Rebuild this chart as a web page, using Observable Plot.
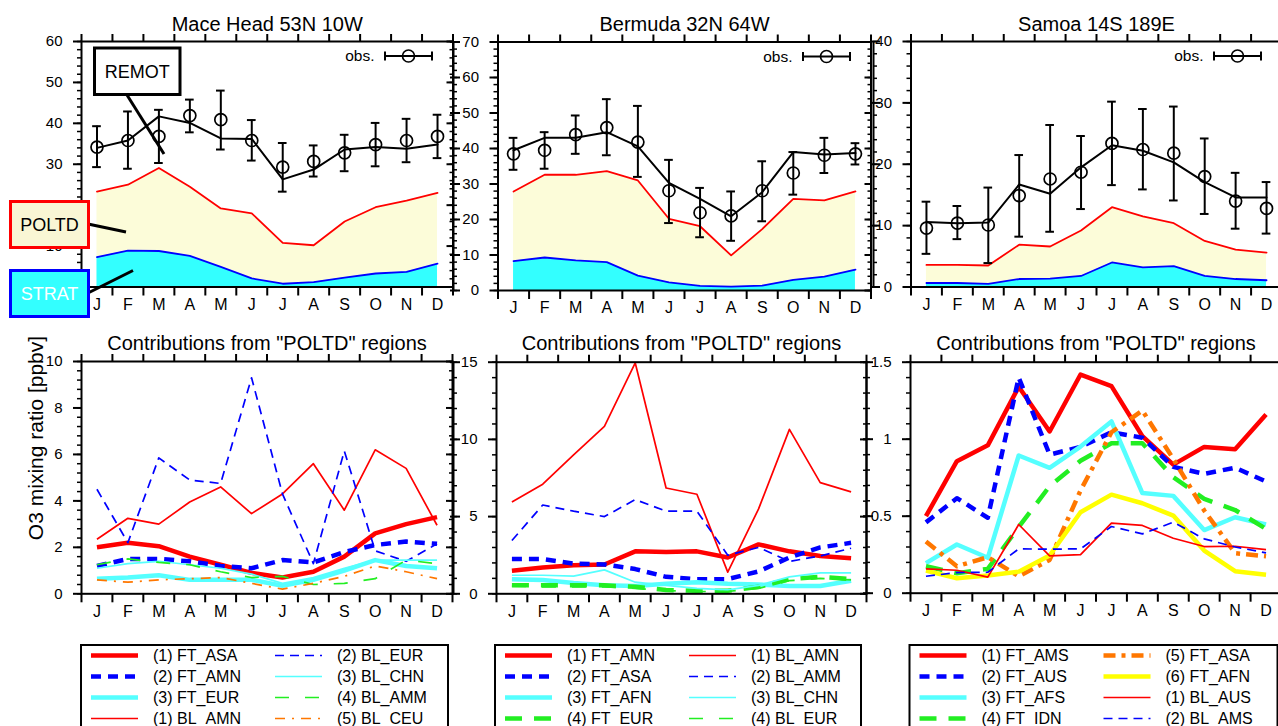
<!DOCTYPE html>
<html><head><meta charset="utf-8">
<script src="https://cdn.jsdelivr.net/npm/d3@7"></script>
<script src="https://cdn.jsdelivr.net/npm/@observablehq/plot@0.6"></script>
<style>
html,body{margin:0;padding:0;background:#fff;overflow:hidden;}
#root{position:relative;width:1278px;height:726px;overflow:hidden;background:#fff;}
#root svg{position:absolute;left:0;top:0;}
</style></head><body><div id="root"></div>
<script>
const months = ["J","F","M","A","M","J","J","A","S","O","N","D"];

// ---- top row: Mace Head ----
const mh_strat = [7.3, 8.9, 8.8, 7.6, 4.9, 2.1, 0.8, 1.2, 2.3, 3.3, 3.7, 5.7];
const mh_poltd = [23.3, 25.0, 29.1, 24.5, 19.2, 18.0, 10.8, 10.2, 16.0, 19.5, 21.1, 23.0];
const mh_model = [34.0, 35.8, 41.7, 40.1, 36.3, 36.2, 26.3, 28.7, 33.6, 34.2, 33.8, 34.8];
const mh_obs   = [34.2, 35.8, 36.8, 41.9, 40.9, 35.8, 29.3, 30.7, 32.8, 34.8, 35.8, 36.8];
const mh_obsHi = [39.3, 42.9, 43.3, 45.8, 48.0, 40.8, 35.2, 34.6, 37.2, 40.1, 41.1, 42.1];
const mh_obsLo = [29.3, 28.9, 30.3, 37.8, 33.6, 30.9, 23.3, 27.0, 28.3, 29.5, 30.5, 31.5];
// ---- top row: Bermuda ----
const bm_strat = [8.3, 9.3, 8.5, 8.0, 4.2, 2.3, 1.3, 1.1, 1.4, 3.0, 3.9, 5.9];
const bm_poltd = [27.9, 32.6, 32.6, 33.6, 31.0, 20.2, 18.1, 9.9, 17.3, 25.8, 25.4, 27.9];
const bm_model = [39.5, 43.0, 43.0, 44.6, 40.6, 30.3, 25.8, 20.9, 27.7, 39.0, 38.3, 38.7];
const bm_obs   = [38.5, 39.5, 43.9, 45.9, 41.8, 28.1, 21.9, 21.0, 28.1, 33.1, 38.1, 38.5];
const bm_obsHi = [43.0, 44.6, 49.3, 53.9, 52.0, 36.8, 28.9, 27.9, 36.4, 39.0, 43.0, 41.5];
const bm_obsLo = [34.0, 34.3, 38.5, 38.1, 32.0, 19.0, 15.0, 14.0, 19.5, 27.0, 33.1, 35.5];
// ---- top row: Samoa ----
const sm_strat = [0.65, 0.65, 0.5, 1.3, 1.35, 1.8, 4.0, 3.2, 3.4, 1.8, 1.3, 1.1];
const sm_poltd = [3.6, 3.6, 3.5, 6.9, 6.6, 9.2, 13.0, 11.5, 10.4, 7.5, 6.1, 5.6];
const sm_model = [10.6, 10.4, 10.5, 16.7, 15.2, 19.5, 23.1, 22.2, 20.3, 17.1, 14.6, 14.6];
const sm_obs   = [9.6, 10.4, 10.1, 14.9, 17.6, 18.7, 23.4, 22.4, 21.8, 18.0, 14.0, 12.8];
const sm_obsHi = [13.9, 13.2, 16.2, 21.5, 26.4, 24.6, 30.2, 29.0, 29.4, 24.2, 18.6, 17.1];
const sm_obsLo = [5.4, 7.8, 3.9, 8.2, 9.0, 12.7, 16.6, 15.9, 14.1, 11.9, 9.5, 8.7];

// ---- bottom row: Mace Head contributions ----
const mhc_FT_ASA = [2.0, 2.2, 2.05, 1.6, 1.25, 0.9, 0.7, 0.95, 1.6, 2.6, 3.0, 3.3];
const mhc_FT_AMN = [1.2, 1.5, 1.5, 1.4, 1.2, 1.1, 1.45, 1.35, 1.8, 2.1, 2.25, 2.15];
const mhc_FT_EUR = [0.65, 0.7, 0.8, 0.6, 0.6, 0.6, 0.35, 0.6, 1.0, 1.45, 1.2, 1.1];
const mhc_BL_AMN = [2.35, 3.25, 3.0, 3.95, 4.6, 3.45, 4.3, 5.6, 3.6, 6.2, 5.4, 2.95];
const mhc_BL_EUR = [4.5, 2.2, 5.85, 4.9, 4.75, 9.3, 4.3, 1.3, 6.15, 1.85, 1.4, 2.15];
const mhc_BL_CHN = [1.1, 1.3, 1.4, 1.25, 1.1, 0.85, 0.45, 0.7, 1.1, 1.45, 1.45, 1.45];
const mhc_BL_AMM = [1.25, 1.5, 1.35, 1.25, 0.95, 0.7, 0.75, 0.4, 0.45, 0.65, 1.45, 1.3];
const mhc_BL_CEU = [0.6, 0.5, 0.6, 0.65, 0.7, 0.45, 0.2, 0.45, 0.75, 1.2, 0.95, 0.65];
// ---- bottom row: Bermuda contributions ----
const bmc_FT_AMN = [1.5, 1.7, 1.85, 1.9, 2.75, 2.7, 2.75, 2.35, 3.2, 2.75, 2.45, 2.3];
const bmc_FT_ASA = [2.25, 2.25, 1.95, 1.9, 1.6, 1.1, 0.95, 0.95, 1.45, 2.35, 3.0, 3.3];
const bmc_FT_AFN = [0.95, 0.9, 0.7, 0.55, 0.5, 0.65, 0.75, 0.65, 0.6, 0.5, 0.5, 0.85];
const bmc_FT_EUR = [0.55, 0.55, 0.55, 0.55, 0.45, 0.25, 0.2, 0.2, 0.45, 0.95, 1.1, 0.95];
const bmc_BL_AMN = [5.95, 7.1, 9.0, 10.85, 14.95, 6.85, 6.45, 1.4, 5.5, 10.65, 7.2, 6.6];
const bmc_BL_AMM = [3.45, 5.75, 5.35, 5.0, 6.1, 5.35, 5.35, 2.5, 3.0, 2.1, 2.45, 2.95];
const bmc_BL_CHN = [1.2, 1.2, 1.15, 1.55, 0.75, 0.55, 0.35, 0.25, 0.55, 1.1, 1.35, 1.35];
const bmc_BL_EUR = [0.5, 0.45, 0.45, 0.45, 0.35, 0.2, 0.15, 0.15, 0.35, 0.85, 1.0, 0.9];
// ---- bottom row: Samoa contributions ----
const smc_FT_AMS = [0.5, 0.857, 0.96, 1.34, 1.05, 1.42, 1.345, 1.02, 0.835, 0.95, 0.935, 1.16];
const smc_FT_AUS = [0.46, 0.617, 0.49, 1.4, 0.9, 0.95, 1.045, 1.01, 0.82, 0.775, 0.815, 0.725];
const smc_FT_AFS = [0.195, 0.316, 0.23, 0.894, 0.814, 0.952, 1.115, 0.65, 0.632, 0.41, 0.493, 0.446];
const smc_FT_IDN = [0.175, 0.13, 0.158, 0.43, 0.695, 0.86, 0.974, 0.974, 0.753, 0.613, 0.54, 0.418];
const smc_FT_ASA = [0.335, 0.175, 0.234, 0.11, 0.216, 0.667, 1.045, 1.186, 0.872, 0.537, 0.26, 0.24];
const smc_FT_AFN = [0.147, 0.097, 0.115, 0.14, 0.245, 0.526, 0.64, 0.584, 0.504, 0.277, 0.143, 0.12];
const smc_BL_AUS = [0.158, 0.149, 0.104, 0.446, 0.242, 0.25, 0.455, 0.44, 0.357, 0.303, 0.305, 0.283];
const smc_BL_AMS = [0.11, 0.134, 0.136, 0.288, 0.286, 0.288, 0.433, 0.385, 0.461, 0.353, 0.3, 0.262];

// series lists: [legend label, values, style key]
const mhSeries = [
  ["(1) FT_ASA", mhc_FT_ASA, "thickRed"], ["(2) FT_AMN", mhc_FT_AMN, "thickBlueDash"],
  ["(3) FT_EUR", mhc_FT_EUR, "thickCyan"], ["(1) BL_AMN", mhc_BL_AMN, "thinRed"],
  ["(2) BL_EUR", mhc_BL_EUR, "thinBlueDash"], ["(3) BL_CHN", mhc_BL_CHN, "thinCyan"],
  ["(4) BL_AMM", mhc_BL_AMM, "thinGreenDash"], ["(5) BL_CEU", mhc_BL_CEU, "thinOrangeDashDot"]];
const bmSeries = [
  ["(1) FT_AMN", bmc_FT_AMN, "thickRed"], ["(2) FT_ASA", bmc_FT_ASA, "thickBlueDash"],
  ["(3) FT_AFN", bmc_FT_AFN, "thickCyan"], ["(4) FT_EUR", bmc_FT_EUR, "thickGreenDash"],
  ["(1) BL_AMN", bmc_BL_AMN, "thinRed"], ["(2) BL_AMM", bmc_BL_AMM, "thinBlueDash"],
  ["(3) BL_CHN", bmc_BL_CHN, "thinCyan"], ["(4) BL_EUR", bmc_BL_EUR, "thinGreenDash"]];
const smSeries = [
  ["(1) FT_AMS", smc_FT_AMS, "thickRed"], ["(2) FT_AUS", smc_FT_AUS, "thickBlueDash"],
  ["(3) FT_AFS", smc_FT_AFS, "thickCyan"], ["(4) FT_IDN", smc_FT_IDN, "thickGreenDash"],
  ["(5) FT_ASA", smc_FT_ASA, "thickOrangeDashDot"], ["(6) FT_AFN", smc_FT_AFN, "thickYellow"],
  ["(1) BL_AUS", smc_BL_AUS, "thinRed"], ["(2) BL_AMS", smc_BL_AMS, "thinBlueDash"]];

const topTitles = ["Mace Head 53N 10W", "Bermuda 32N 64W", "Samoa 14S 189E"];
const bottomTitle = 'Contributions from "POLTD" regions';
const yTitle = "O3 mixing ratio [ppbv]";
const annLabels = ["REMOT", "POLTD", "STRAT"];
const obsLabel = "obs.";

// ---- styles ----
const FONT = '"Liberation Sans", Arial, Helvetica, sans-serif';
const CYAN_FILL = "#33ffff", CREAM_FILL = "#fcfcd9";
const LS = {
  thickRed: {stroke: "#ff0000", strokeWidth: 4.5},
  thickBlueDash: {stroke: "#0000ff", strokeWidth: 4.5, strokeDasharray: "10,7"},
  thickCyan: {stroke: "#55ffff", strokeWidth: 4.5},
  thickGreenDash: {stroke: "#22ee22", strokeWidth: 4.5, strokeDasharray: "17,12"},
  thickOrangeDashDot: {stroke: "#ff7700", strokeWidth: 4.5, strokeDasharray: "12,6,4,6"},
  thickYellow: {stroke: "#ffff00", strokeWidth: 4.5},
  thinRed: {stroke: "#ff0000", strokeWidth: 1.7},
  thinBlueDash: {stroke: "#0000ff", strokeWidth: 1.7, strokeDasharray: "9,6"},
  thinCyan: {stroke: "#55ffff", strokeWidth: 1.7},
  thinGreenDash: {stroke: "#22ee22", strokeWidth: 1.7, strokeDasharray: "14,16"},
  thinOrangeDashDot: {stroke: "#ff7700", strokeWidth: 1.7, strokeDasharray: "10,7,2,7"}
};

const W = 1290, H = 726;
const blank = () => "";
const root = document.getElementById("root");

function makePanel(cfg) {
  const {f, yDomain, yMajor, yLabels, yMinor, fmt, detached, rightTicks, title, titleDy, monthDy, dataMarks} = cfg;
  const marks = [
    ...dataMarks,
    Plot.frame({stroke: "black", strokeWidth: 2}),
    Plot.axisX(d3.range(0, 13), {anchor: "bottom", tickSize: 9, tickFormat: blank, strokeWidth: 2, label: null}),
    Plot.axisX(d3.range(0, 13), {anchor: "top", tickSize: 8, tickFormat: blank, strokeWidth: 2, label: null}),
    Plot.text(months, {x: (d, i) => i + 0.5, text: d => d, frameAnchor: "bottom", dy: monthDy, fontSize: 16}),
    Plot.axisY(yMajor, {anchor: "left", tickSize: 8, tickFormat: blank, strokeWidth: 2, label: null}),
    Plot.axisY(yLabels, {anchor: "left", tickSize: 0, tickPadding: 19, tickFormat: fmt, fontSize: 15, label: null}),
    Plot.axisY(yMinor, {anchor: "left", tickSize: 4, tickFormat: blank, strokeWidth: 1.5, label: null}),
    Plot.text([title], {text: d => d, frameAnchor: "top", lineAnchor: "bottom", dy: titleDy, fontSize: 20})
  ];
  if (rightTicks) marks.push(
    Plot.axisY(yMajor, {anchor: "right", tickSize: -7, tickFormat: blank, strokeWidth: 2, label: null}),
    Plot.axisY(yMinor, {anchor: "right", tickSize: -4, tickFormat: blank, strokeWidth: 1.5, label: null})
  );
  if (detached) marks.push(
    Plot.ruleX([0], {dx: -detached, strokeWidth: 2}),
    Plot.axisY(yMajor, {anchor: "left", dx: -detached, tickSize: -7, tickFormat: blank, strokeWidth: 2, label: null}),
    Plot.axisY(yMajor, {anchor: "left", dx: -detached, tickSize: 3, tickFormat: blank, strokeWidth: 2, label: null}),
    Plot.axisY(yMinor, {anchor: "left", dx: -detached, tickSize: -4, tickFormat: blank, strokeWidth: 1.5, label: null})
  );
  const svg = Plot.plot({
    width: W, height: H,
    marginLeft: f.l, marginRight: W - f.r, marginTop: f.t, marginBottom: H - f.b,
    x: {domain: [0, 12]}, y: {domain: yDomain},
    style: `background:transparent;font-family:${FONT};font-size:15px;color:black;overflow:visible;max-width:none;position:absolute;left:0;top:0;`,
    marks
  });
  root.appendChild(svg);
}

function topMarks(strat, poltd, model, obs, hi, lo) {
  const rows = months.map((m, i) => ({x: i + 0.5, strat: strat[i], poltd: poltd[i], model: model[i], obs: obs[i], hi: hi[i], lo: lo[i]}));
  const cap = 0.14;
  return [
    Plot.areaY(rows, {x: "x", y1: 0, y2: "strat", fill: CYAN_FILL}),
    Plot.areaY(rows, {x: "x", y1: "strat", y2: "poltd", fill: CREAM_FILL}),
    Plot.lineY(rows, {x: "x", y: "strat", stroke: "#0000ff", strokeWidth: 1.8}),
    Plot.lineY(rows, {x: "x", y: "poltd", stroke: "#ff0000", strokeWidth: 1.8}),
    Plot.lineY(rows, {x: "x", y: "model", stroke: "black", strokeWidth: 2}),
    Plot.ruleX(rows, {x: "x", y1: "lo", y2: "hi", stroke: "black", strokeWidth: 2}),
    Plot.ruleY(rows, {y: "hi", x1: r => r.x - cap, x2: r => r.x + cap, stroke: "black", strokeWidth: 2}),
    Plot.ruleY(rows, {y: "lo", x1: r => r.x - cap, x2: r => r.x + cap, stroke: "black", strokeWidth: 2}),
    Plot.dot(rows, {x: "x", y: "obs", r: 6, stroke: "black", strokeWidth: 1.7, fill: "none"})
  ];
}

function bottomMarks(series) {
  return series.map(([name, vals, key]) =>
    Plot.lineY(vals.map((v, i) => ({x: i + 0.5, v})), {x: "x", y: "v", strokeLinecap: "butt", strokeLinejoin: "round", ...LS[key]}));
}

const fmtNum = d => String(d);
const range = (a, b, s) => d3.range(Math.round(a / s), Math.round(b / s) + 1).map(k => +(k * s).toFixed(3));

// top row panels
const topFrames = [
  {l: 81, r: 452.5, t: 41, b: 286.5},
  {l: 497.5, r: 870.5, t: 41.5, b: 290},
  {l: 910.5, r: 1281.5, t: 41, b: 286.5}
];
// in the first panel the labels 0 sits under the STRAT box, so it is not drawn
makePanel({f: topFrames[0], yDomain: [0, 60], yMajor: range(0, 60, 10), yLabels: range(10, 60, 10), yMinor: range(0, 60, 2), fmt: fmtNum,
  detached: 0, rightTicks: true, title: topTitles[0], titleDy: -11, monthDy: 22.5,
  dataMarks: topMarks(mh_strat, mh_poltd, mh_model, mh_obs, mh_obsHi, mh_obsLo)});
makePanel({f: topFrames[1], yDomain: [0, 70], yMajor: range(0, 70, 10), yLabels: range(0, 70, 10), yMinor: range(0, 70, 2), fmt: fmtNum,
  detached: 44.5, rightTicks: true, title: topTitles[1], titleDy: -11.5, monthDy: 22.5,
  dataMarks: topMarks(bm_strat, bm_poltd, bm_model, bm_obs, bm_obsHi, bm_obsLo)});
makePanel({f: topFrames[2], yDomain: [0, 40], yMajor: range(0, 40, 10), yLabels: range(0, 40, 10), yMinor: range(0, 40, 2), fmt: fmtNum,
  detached: 37.5, rightTicks: false, title: topTitles[2], titleDy: -11, monthDy: 22.5,
  dataMarks: topMarks(sm_strat, sm_poltd, sm_model, sm_obs, sm_obsHi, sm_obsLo)});

// bottom row panels
const botFrames = [
  {l: 81, r: 452, t: 361, b: 593.3},
  {l: 496, r: 866, t: 361.7, b: 593.3},
  {l: 910, r: 1281, t: 361.7, b: 592.7}
];
makePanel({f: botFrames[0], yDomain: [0, 10], yMajor: range(0, 10, 2), yLabels: range(0, 10, 2), yMinor: range(0, 10, 0.4), fmt: fmtNum,
  detached: 0, rightTicks: true, title: bottomTitle, titleDy: -12, monthDy: 23, dataMarks: bottomMarks(mhSeries)});
makePanel({f: botFrames[1], yDomain: [0, 15], yMajor: range(0, 15, 5), yLabels: range(0, 15, 5), yMinor: range(0, 15, 1), fmt: fmtNum,
  detached: 43, rightTicks: true, title: bottomTitle, titleDy: -12, monthDy: 23, dataMarks: bottomMarks(bmSeries)});
makePanel({f: botFrames[2], yDomain: [0, 1.5], yMajor: range(0, 1.5, 0.5), yLabels: range(0, 1.5, 0.5), yMinor: range(0, 1.5, 0.1), fmt: fmtNum,
  detached: 44, rightTicks: false, title: bottomTitle, titleDy: -12, monthDy: 23, dataMarks: bottomMarks(smSeries)});

// ---- overlay: legends and annotations ----
const ov = d3.create("svg").attr("width", 1278).attr("height", 726)
  .attr("font-family", FONT).style("position", "absolute").style("left", 0).style("top", 0);

// obs. legends in top panels
topFrames.forEach(f => {
  const y = f.t + 15;
  const g = ov.append("g").attr("stroke", "black").attr("stroke-width", 2).attr("fill", "none");
  g.append("line").attr("x1", f.r - 67.5).attr("x2", f.r - 20.5).attr("y1", y).attr("y2", y);
  g.append("line").attr("x1", f.r - 67.5).attr("x2", f.r - 67.5).attr("y1", y - 4.5).attr("y2", y + 4.5);
  g.append("line").attr("x1", f.r - 20.5).attr("x2", f.r - 20.5).attr("y1", y - 4.5).attr("y2", y + 4.5);
  g.append("circle").attr("cx", f.r - 44).attr("cy", y).attr("r", 6).attr("stroke-width", 1.7);
  ov.append("text").attr("x", f.r - 78).attr("y", y + 5).attr("text-anchor", "end").attr("font-size", 15.5).text(obsLabel);
});

// annotation boxes
const boxes = [
  {label: annLabels[0], x: 94.5, y: 48, w: 85.5, h: 46.5, stroke: "black", fill: "white", color: "black", line: [127, 95, 164, 154]},
  {label: annLabels[1], x: 10.5, y: 201.5, w: 78, h: 46, stroke: "#ff0000", fill: "#f9f6d4", color: "black", line: [88, 224, 126, 232]},
  {label: annLabels[2], x: 10.5, y: 270.5, w: 78, h: 46, stroke: "#0000ff", fill: "#33ffff", color: "white", line: [88, 293, 133, 270.5]}
];
boxes.forEach(b => {
  ov.append("line").attr("x1", b.line[0]).attr("y1", b.line[1]).attr("x2", b.line[2]).attr("y2", b.line[3])
    .attr("stroke", "black").attr("stroke-width", 3);
  ov.append("rect").attr("x", b.x).attr("y", b.y).attr("width", b.w).attr("height", b.h)
    .attr("fill", b.fill).attr("stroke", b.stroke).attr("stroke-width", 3);
  ov.append("text").attr("x", b.x + b.w / 2).attr("y", b.y + b.h / 2 + 6.5).attr("text-anchor", "middle")
    .attr("font-size", 18).attr("fill", b.color).text(b.label);
});

// y-axis title
ov.append("text").attr("transform", "translate(43,438) rotate(-90)").attr("text-anchor", "middle")
  .attr("font-size", 21).text(yTitle);

// bottom legends
const legendLefts = [81, 495, 909.5];
const legendWidths = [367, 366, 368];
[mhSeries, bmSeries, smSeries].forEach((series, k) => {
  const x0 = legendLefts[k];
  ov.append("rect").attr("x", x0).attr("y", 645).attr("width", legendWidths[k]).attr("height", 110)
    .attr("fill", "white").attr("stroke", "black").attr("stroke-width", 2);
  series.forEach(([name, vals, key], i) => {
    const col = i < 4 ? 0 : 1, row = i % 4;
    const y = 655.5 + row * 21;
    const lx = x0 + (col ? 194 : 10);
    const s = LS[key];
    ov.append("line").attr("x1", lx).attr("x2", lx + 47).attr("y1", y).attr("y2", y)
      .attr("stroke", s.stroke).attr("stroke-width", s.strokeWidth)
      .attr("stroke-dasharray", s.strokeDasharray || null);
    ov.append("text").attr("x", x0 + (col ? 256 : 72)).attr("y", y + 5.7).attr("font-size", 16).text(name);
  });
});

root.appendChild(ov.node());
</script>
</body></html>
